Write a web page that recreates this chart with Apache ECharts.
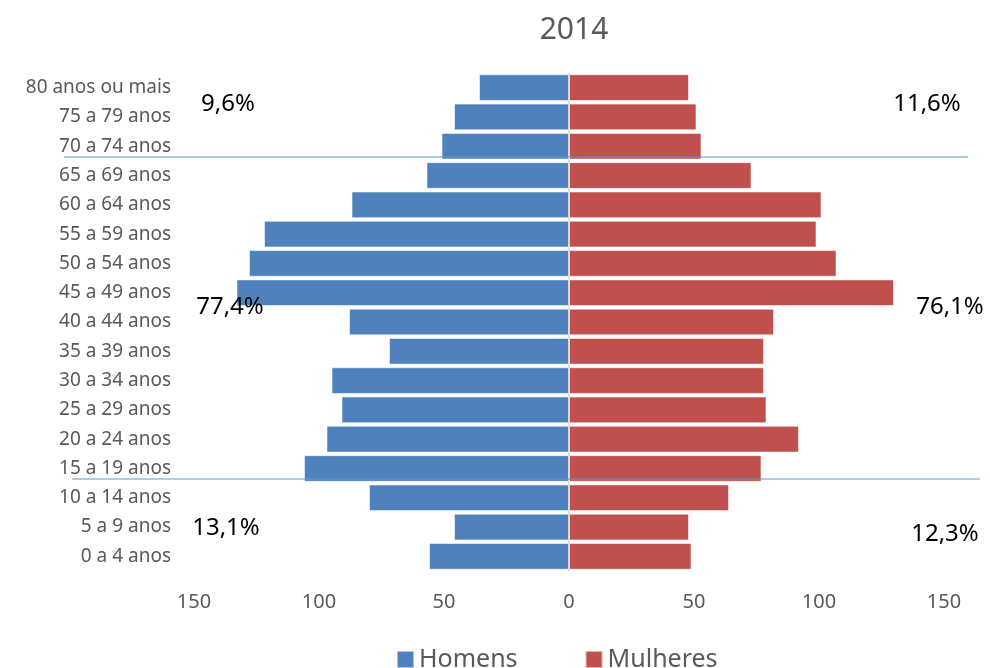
<!DOCTYPE html>
<html>
<head>
<meta charset="utf-8">
<script src="https://cdn.jsdelivr.net/npm/echarts@6/dist/echarts.min.js"></script>
<style>
  html, body { margin: 0; padding: 0; background: #fff; }
  #main { width: 990px; height: 668px; }
</style>
</head>
<body>
<div id="main"></div>
<script>
// faixas etarias, de baixo para cima
const faixas = ['0 a 4 anos', '5 a 9 anos', '10 a 14 anos', '15 a 19 anos', '20 a 24 anos',
  '25 a 29 anos', '30 a 34 anos', '35 a 39 anos', '40 a 44 anos', '45 a 49 anos',
  '50 a 54 anos', '55 a 59 anos', '60 a 64 anos', '65 a 69 anos', '70 a 74 anos',
  '75 a 79 anos', '80 anos ou mais'];
const homens = [56, 46, 80, 106, 97, 91, 95, 72, 88, 133, 128, 122, 87, 57, 51, 46, 36];
const mulheres = [49, 48, 64, 77, 92, 79, 78, 78, 82, 130, 107, 99, 101, 73, 53, 51, 48];
const xTicks = [-150, 150, 50];  // min, max, interval
const anotacoes = [
  {text: '9,6%', x: 228, y: 104},
  {text: '11,6%', x: 927, y: 104},
  {text: '77,4%', x: 230, y: 307},
  {text: '76,1%', x: 950, y: 307},
  {text: '13,1%', x: 226, y: 528},
  {text: '12,3%', x: 945, y: 534}
];

const font = 'Noto Sans';
const chart = echarts.init(document.getElementById('main'));

const option = {
  animation: false,
  textStyle: {fontFamily: font},
  title: {
    text: '2014',
    left: 569,
    textAlign: 'center',
    top: 10,
    textStyle: {fontFamily: font, fontSize: 30, fontWeight: 'normal', color: '#595959'}
  },
  legend: {
    bottom: -4,
    left: 396,
    padding: 0,
    icon: 'rect',
    itemWidth: 17,
    itemHeight: 17,
    itemGap: 67,
    textStyle: {fontFamily: font, fontSize: 25, color: '#595959'},
    data: ['Homens', 'Mulheres']
  },
  grid: {left: 194, right: 46, top: 73, bottom: 97, containLabel: false},
  xAxis: {
    type: 'value',
    min: xTicks[0],
    max: xTicks[1],
    interval: xTicks[2],
    axisLine: {show: false},
    axisTick: {show: false},
    splitLine: {show: false},
    axisLabel: {
      margin: 21,
      fontFamily: font,
      fontSize: 20,
      color: '#595959',
      formatter: v => Math.abs(v)
    }
  },
  yAxis: {
    type: 'category',
    data: faixas,
    axisLine: {show: false, onZero: false},
    axisTick: {show: false},
    axisLabel: {margin: 23, fontFamily: font, fontSize: 19, color: '#595959'}
  },
  series: [
    {
      name: 'Homens',
      type: 'bar',
      data: homens.map(v => -v),
      barCategoryGap: '9%',
      barGap: '-100%',
      itemStyle: {color: '#4f81bd', borderColor: 'rgba(255,255,255,0.55)', borderWidth: 1},
      markLine: {
        silent: true,
        symbol: 'none',
        label: {show: false},
        lineStyle: {color: '#d9d9d9', type: 'solid', width: 1.5},
        data: [{xAxis: 0}]
      }
    },
    {
      name: 'Mulheres',
      type: 'bar',
      data: mulheres,
      barCategoryGap: '9%',
      barGap: '-100%',
      itemStyle: {color: '#c0504d', borderColor: 'rgba(255,255,255,0.55)', borderWidth: 1}
    }
  ],
  graphic: [
    {type: 'line', z: 100, shape: {x1: 64, y1: 157, x2: 968, y2: 157},
      style: {stroke: '#5b9bd5', lineWidth: 1.2}},
    {type: 'line', z: 100, shape: {x1: 72, y1: 479, x2: 980, y2: 479},
      style: {stroke: '#5b9bd5', lineWidth: 1.2}}
  ].concat(anotacoes.map(a => ({
    type: 'text', z: 100, x: a.x, y: a.y,
    style: {text: a.text, fontFamily: font, fontSize: 24, fill: '#000',
      align: 'center', verticalAlign: 'middle'}
  })))
};

chart.setOption(option);
</script>
</body>
</html>
